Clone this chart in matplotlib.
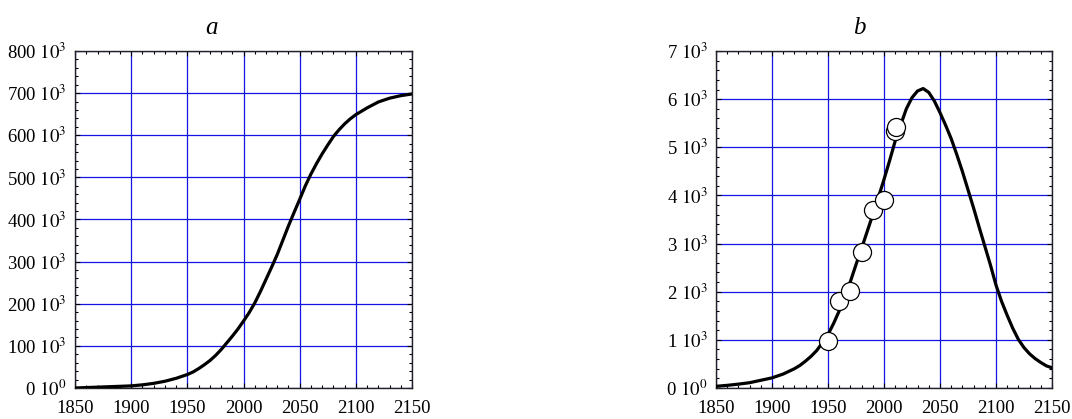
import matplotlib
matplotlib.use("Agg")
import matplotlib.pyplot as plt
from matplotlib.ticker import MultipleLocator, FuncFormatter

plt.rcParams['font.family'] = ['Liberation Serif', 'DejaVu Serif']
plt.rcParams['mathtext.fontset'] = 'stix'

# panel a: cumulative curve
years_a = [1850, 1860, 1870, 1880, 1890, 1900, 1910, 1920, 1930, 1940, 1950,
           1955, 1960, 1965, 1970, 1975, 1980, 1985, 1990, 1995, 2000, 2005,
           2010, 2015, 2020, 2025, 2030, 2035, 2040, 2045, 2050, 2055, 2060,
           2065, 2070, 2075, 2080, 2085, 2090, 2095, 2100, 2110, 2120, 2130,
           2140, 2150]
cum_a = [0, 1e3, 2e3, 3e3, 4e3, 5e3, 7.5e3, 11e3, 16e3, 23e3, 32e3,
         38e3, 46e3, 55e3, 65e3, 77e3, 91e3, 107e3, 123e3, 140e3, 159e3, 179e3,
         202e3, 229e3, 258e3, 287e3, 317e3, 351e3, 385e3, 417e3, 448e3, 480e3,
         508e3, 533e3, 556e3, 577e3, 597e3, 613e3, 627e3, 639e3, 649e3, 665e3,
         679e3, 688e3, 694e3, 698e3]

# panel b: yearly curve and observed points
years_b = [1850, 1860, 1870, 1880, 1890, 1900, 1910, 1920, 1925, 1930, 1935,
           1940, 1945, 1950, 1955, 1960, 1965, 1970, 1975, 1980, 1985, 1990,
           1995, 2000, 2005, 2010, 2015, 2020, 2025, 2030, 2035, 2040, 2045,
           2050, 2055, 2060, 2065, 2070, 2075, 2080, 2085, 2090, 2095, 2100,
           2105, 2110, 2115, 2120, 2125, 2130, 2135, 2140, 2145, 2150]
rate_b = [35, 55, 80, 110, 160, 210, 290, 400, 470, 560, 660,
          780, 940, 1110, 1340, 1600, 1900, 2210, 2560, 2900, 3250, 3600,
          3960, 4330, 4720, 5130, 5470, 5800, 6030, 6170, 6220, 6140, 5960,
          5720, 5460, 5180, 4850, 4500, 4120, 3740, 3340, 2950, 2560, 2140,
          1800, 1510, 1240, 1010, 840, 710, 610, 530, 460, 420]
obs_years = [1950, 1960, 1970, 1980, 1990, 2000, 2010, 2011]
obs_vals = [970, 1810, 2020, 2820, 3690, 3910, 5330, 5430]

fig = plt.figure(figsize=(10.72, 4.19), dpi=100)
ax1 = fig.add_axes([0.070, 0.074, 0.3144, 0.8043])
ax2 = fig.add_axes([0.6679, 0.074, 0.3134, 0.8043])

grid_col = '#1414e6'


def style(ax, ymax, ystep, ypow):
    ax.set_xlim(1850, 2150)
    ax.set_ylim(0, ymax)
    ax.xaxis.set_major_locator(MultipleLocator(50))
    ax.xaxis.set_minor_locator(MultipleLocator(10))
    ax.yaxis.set_major_locator(MultipleLocator(ystep))
    ax.yaxis.set_minor_locator(MultipleLocator(ystep / 5))

    def fmt(v, pos):
        if v == 0:
            return r'0 $10^{0}$'
        return r'%d $10^{%d}$' % (round(v / 10 ** ypow), ypow)
    ax.yaxis.set_major_formatter(FuncFormatter(fmt))
    ax.tick_params(which='both', direction='in', top=True, right=True,
                   labelsize=13.5, width=0.8)
    ax.tick_params(which='major', length=3.5)
    ax.tick_params(which='minor', length=2.5)
    ax.tick_params(axis='x', pad=9)
    ax.tick_params(axis='y', pad=6)
    for s in ax.spines.values():
        s.set_linewidth(1.0)
        s.set_color('#222222')
    ax.grid(True, which='major', color=grid_col, linewidth=0.9)


style(ax1, 800e3, 100e3, 3)
style(ax2, 7000, 1000, 3)

ax1.plot(years_a, cum_a, color='black', linewidth=2.3, zorder=3)
ax2.plot(years_b, rate_b, color='black', linewidth=2.3, zorder=3)
ax2.plot(obs_years, obs_vals, 'o', markersize=13, markerfacecolor='white',
         markeredgecolor='black', markeredgewidth=0.9, zorder=4)

ax1.set_title('a', style='italic', fontsize=18, x=0.404, pad=12)
ax2.set_title('b', style='italic', fontsize=18, x=0.426, pad=12)

fig.savefig('out.png', dpi=100)
